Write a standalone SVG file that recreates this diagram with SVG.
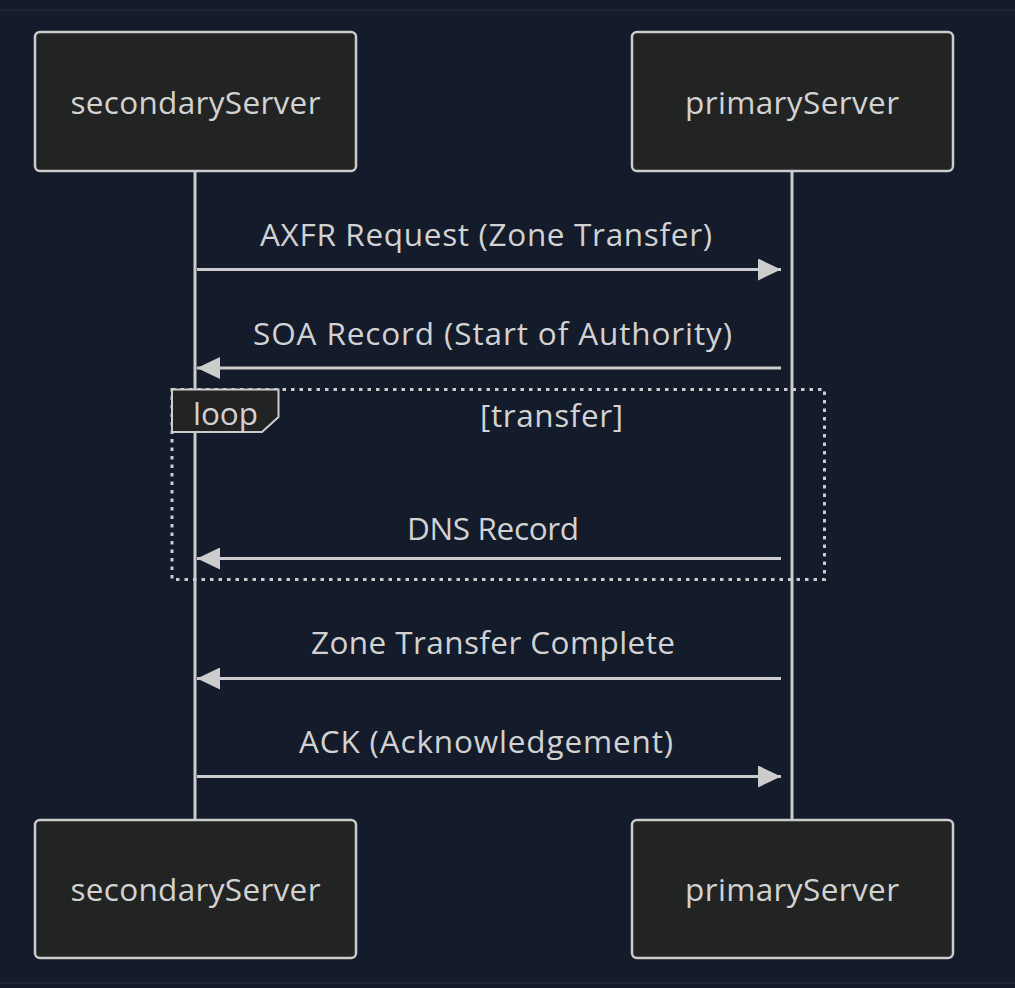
<svg xmlns="http://www.w3.org/2000/svg" width="1015" height="988" viewBox="0 0 1015 988">
<defs>
<style>
.bg{fill:#141b2b}
.edge{stroke:#1d2533;stroke-width:2}
.actor{fill:#222423;stroke:#cccccc;stroke-width:2.5}
.t{font-family:"Open Sans","Noto Sans",sans-serif;font-size:31.5px;fill:#d2d2d2;text-anchor:middle}
.life{stroke:#cccccc;stroke-width:3;fill:none}
.msg{stroke:#cccccc;stroke-width:3;fill:none}
.loop{stroke:#cccccc;stroke-width:3;fill:none;stroke-dasharray:3.5 5}
.lbl{fill:#222423;stroke:#cccccc;stroke-width:2}
</style>
<marker id="ah" viewBox="0 0 23 22" refX="23" refY="11" markerWidth="23" markerHeight="22" markerUnits="userSpaceOnUse" orient="auto">
<path d="M0,0 L23,11 L0,22 Z" fill="#cccccc"/>
</marker>
</defs>
<rect class="bg" x="0" y="0" width="1015" height="988"/>
<line class="edge" x1="0" y1="10" x2="1015" y2="10"/>
<line class="edge" x1="0" y1="983" x2="1015" y2="983"/>
<g id="lifelines">
<line class="life" x1="195" y1="171" x2="195" y2="820"/>
<line class="life" x1="792" y1="171" x2="792" y2="820"/>
</g>
<g id="actor-secondary-top">
<rect class="actor" x="35" y="32" width="321" height="139" rx="5"/>
<text class="t" x="195.5" y="114" textLength="250" lengthAdjust="spacing">secondaryServer</text>
</g>
<g id="actor-primary-top">
<rect class="actor" x="632" y="32" width="321" height="139" rx="5"/>
<text class="t" x="792" y="114" textLength="214" lengthAdjust="spacing">primaryServer</text>
</g>
<g id="actor-secondary-bottom">
<rect class="actor" x="35" y="820" width="321" height="138" rx="5"/>
<text class="t" x="195.5" y="901" textLength="250" lengthAdjust="spacing">secondaryServer</text>
</g>
<g id="actor-primary-bottom">
<rect class="actor" x="632" y="820" width="321" height="138" rx="5"/>
<text class="t" x="792" y="901" textLength="214" lengthAdjust="spacing">primaryServer</text>
</g>
<g id="loop">
<rect class="loop" x="172" y="389.5" width="652.5" height="190"/>
<path class="lbl" d="M172,389.5 L278.5,389.5 L278.5,417 L262,432 L172,432 Z"/>
<text class="t" x="225.5" y="425" textLength="65" lengthAdjust="spacing">loop</text>
<text class="t" x="551.5" y="427" textLength="143" lengthAdjust="spacing">[transfer]</text>
</g>
<g id="connectors">
<line class="msg" x1="197" y1="269.5" x2="781" y2="269.5" marker-end="url(#ah)"/>
<line class="msg" x1="781" y1="368" x2="197" y2="368" marker-end="url(#ah)"/>
<line class="msg" x1="781" y1="558.5" x2="197" y2="558.5" marker-end="url(#ah)"/>
<line class="msg" x1="781" y1="678.5" x2="197" y2="678.5" marker-end="url(#ah)"/>
<line class="msg" x1="197" y1="776.5" x2="781" y2="776.5" marker-end="url(#ah)"/>
</g>
<g id="labels">
<text class="t" x="486" y="246" textLength="452" lengthAdjust="spacing">AXFR Request (Zone Transfer)</text>
<text class="t" x="492.5" y="345" textLength="479" lengthAdjust="spacing">SOA Record (Start of Authority)</text>
<text class="t" x="493" y="540" textLength="172" lengthAdjust="spacing">DNS Record</text>
<text class="t" x="493" y="654" textLength="364" lengthAdjust="spacing">Zone Transfer Complete</text>
<text class="t" x="486" y="753" textLength="374" lengthAdjust="spacing">ACK (Acknowledgement)</text>
</g>
</svg>
